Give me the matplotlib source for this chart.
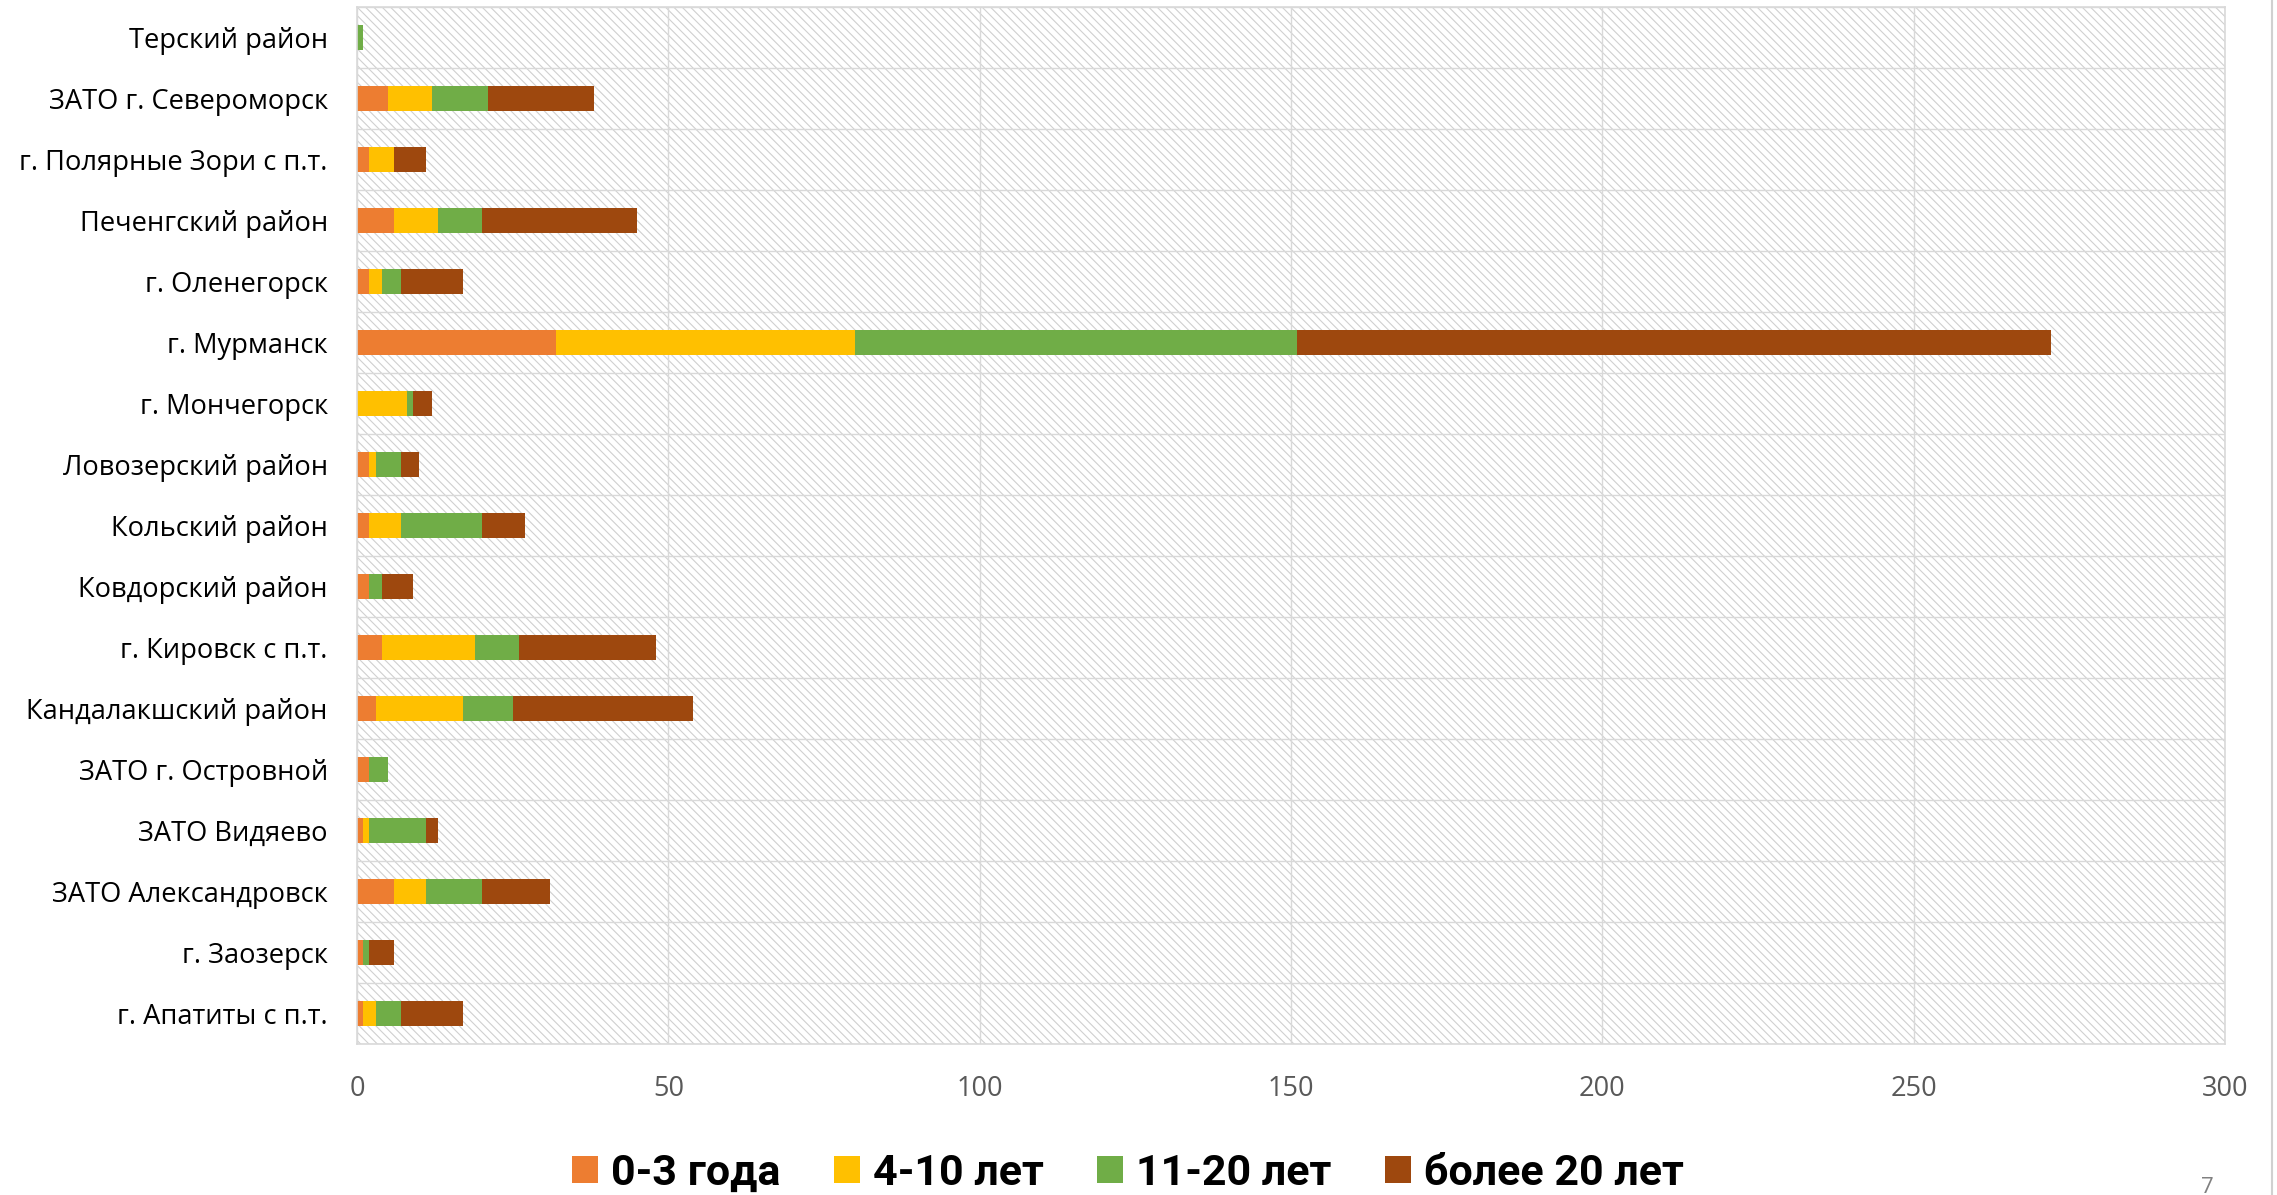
import matplotlib.pyplot as plt
from matplotlib.patches import Rectangle
import numpy as np

# categories, bottom to top (Excel order)
districts = [
    "г. Апатиты с п.т.",
    "г. Заозерск",
    "ЗАТО Александровск",
    "ЗАТО Видяево",
    "ЗАТО г. Островной",
    "Кандалакшский район",
    "г. Кировск с п.т.",
    "Ковдорский район",
    "Кольский район",
    "Ловозерский район",
    "г. Мончегорск",
    "г. Мурманск",
    "г. Оленегорск",
    "Печенгский район",
    "г. Полярные Зори с п.т.",
    "ЗАТО г. Североморск",
    "Терский район",
]

age_0_3 = [1, 1, 6, 1, 2, 3, 4, 2, 2, 2, 0, 32, 2, 6, 2, 5, 0]
age_4_10 = [2, 0, 5, 1, 0, 14, 15, 0, 5, 1, 8, 48, 2, 7, 4, 7, 0]
age_11_20 = [4, 1, 9, 9, 3, 8, 7, 2, 13, 4, 1, 71, 3, 7, 0, 9, 1]
age_20_plus = [10, 4, 11, 2, 0, 29, 22, 5, 7, 3, 3, 121, 10, 25, 5, 17, 0]

series_names = ["0-3 года", "4-10 лет", "11-20 лет", "более 20 лет"]
series_colors = ["#ED7D31", "#FFC000", "#70AD47", "#9E480E"]
x_ticks = [0, 50, 100, 150, 200, 250, 300]

plt.rcParams['font.family'] = ['Open Sans', 'DejaVu Sans']
plt.rcParams['hatch.linewidth'] = 0.8

fig = plt.figure(figsize=(22.77, 11.95), dpi=100)
ax = fig.add_axes([0.1568, 0.1264, 0.8204, 0.8677])

# hatched plot area
ax.add_patch(Rectangle((0, 0), 1, 1, transform=ax.transAxes,
                       facecolor="white", edgecolor="#d0d0d0",
                       hatch="\\\\\\\\", linewidth=0, zorder=0.1))

y = np.arange(len(districts))
left = np.zeros(len(districts))
series = [age_0_3, age_4_10, age_11_20, age_20_plus]

for name, values, color in zip(series_names, series, series_colors):
    ax.barh(y, values, left=left, height=0.4, color=color,
            label=name, zorder=2)
    left += np.array(values)

ax.set_xlim(0, 300)
ax.set_ylim(-0.5, len(districts) - 0.5)
ax.set_xticks(x_ticks)
ax.set_yticks(y)
ax.set_yticklabels(districts)
ax.set_yticks(np.arange(-0.5, len(districts)), minor=True)

ax.tick_params(axis='y', which='both', length=0, pad=21,
               labelsize=19.6, labelcolor="black")
ax.tick_params(axis='x', length=0, pad=22, labelsize=19.5,
               labelcolor="#595959")

ax.set_axisbelow(True)
ax.grid(True, axis='x', which='major', color="#d9d9d9", linewidth=1.0)
ax.grid(True, axis='y', which='minor', color="#d9d9d9", linewidth=1.0)
ax.grid(False, axis='y', which='major')

for spine in ax.spines.values():
    spine.set_color("#d9d9d9")
    spine.set_linewidth(1.2)

fig.legend(
    loc='center',
    bbox_to_anchor=(0.4954, 0.018),
    ncol=4,
    frameon=False,
    prop={'family': ['Roboto', 'DejaVu Sans'],
          'weight': 'bold', 'size': 31},
    handlelength=0.6,
    handleheight=0.6,
    handletextpad=0.3,
    columnspacing=1.25,
)

# slide border and page number
fig.add_artist(plt.Line2D([0.9978, 0.9978], [0, 1], transform=fig.transFigure,
                          color="#d0d0d0", linewidth=1.5))
fig.text(0.9693, 0.006, "7", fontsize=16, color="#808080",
         ha='center', va='center')

fig.savefig("out.png", dpi=100)
